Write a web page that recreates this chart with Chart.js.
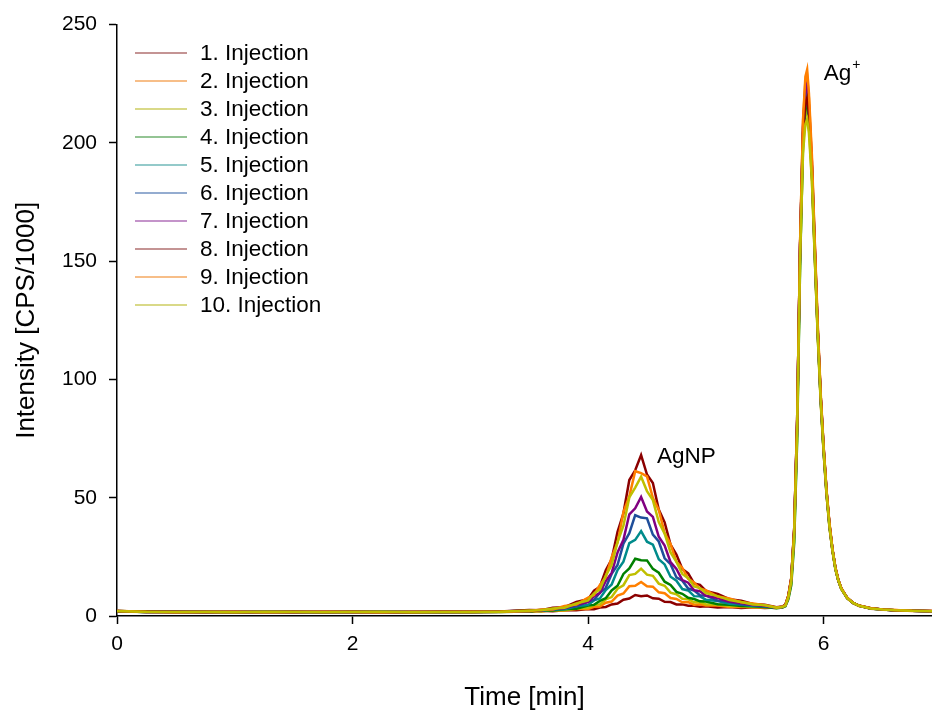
<!doctype html>
<html>
<head>
<meta charset="utf-8">
<title>AgNP / Ag+ injections</title>
<script src="https://cdn.jsdelivr.net/npm/chart.js@4.4.1/dist/chart.umd.min.js"></script>
<style>
  html, body { margin: 0; padding: 0; background: #fff; }
  #chrom { display: block; }
</style>
</head>
<body>
<canvas id="chrom" width="932" height="715"></canvas>
<script>
// time axis [min], shared by all injections
var timeMin = [0, 0.25, 0.5, 0.75, 1, 1.25, 1.5, 1.75, 2, 2.25, 2.5, 2.75, 3, 3.25,
  3.5, 3.6, 3.7, 3.8, 3.9, 4.0, 4.05, 4.1, 4.15, 4.2, 4.25, 4.3, 4.35, 4.4, 4.45, 4.5,
  4.55, 4.6, 4.65, 4.7, 4.75, 4.8, 4.85, 4.9, 4.95, 5.0, 5.1, 5.2, 5.3, 5.4, 5.5,
  5.6, 5.65, 5.675, 5.7, 5.725, 5.75, 5.775, 5.8, 5.825, 5.845, 5.86, 5.875, 5.9, 5.925,
  5.95, 5.975, 6.0, 6.025, 6.05, 6.075, 6.1, 6.125, 6.15, 6.2, 6.25, 6.3, 6.4, 6.5, 6.6, 6.75, 6.92];

// intensity [CPS/1000]
var inj1 = [2.0, 1.7, 1.8, 1.6, 1.7, 1.8, 1.6, 1.7, 1.6, 1.7, 1.8, 1.6, 1.7, 1.8,
  1.8, 2.2, 2.0, 2.4, 2.4, 3.0, 2.9, 3.6, 3.8, 4.9, 5.3, 6.9, 7.4, 8.9, 8.4, 8.7,
  7.5, 7.3, 6.0, 5.9, 4.9, 4.9, 4.3, 4.3, 3.9, 4.1, 3.6, 3.8, 3.4, 3.7, 3.4,
  3.6, 3.7, 4.6, 8.5, 16, 37, 83, 156, 204, 219, 222, 212, 188, 152,
  119, 91, 69, 51, 37.5, 27.5, 20, 15, 11.4, 7.6, 5.4, 4.4, 3.1, 2.8, 2.3, 2.2, 2.0];
var inj2 = [2.1, 1.8, 1.6, 1.8, 1.7, 1.6, 1.8, 1.6, 1.7, 1.8, 1.6, 1.7, 1.8, 1.7,
  2.1, 1.9, 2.4, 2.3, 3.0, 3.0, 3.9, 4.0, 5.6, 6.1, 8.6, 9.5, 12.6, 12.8, 14.4, 12.6,
  12.4, 10.0, 9.6, 7.6, 7.2, 5.8, 5.9, 4.8, 5.0, 4.4, 4.4, 3.8, 3.9, 3.6, 3.7,
  3.4, 3.9, 4.4, 8.2, 15.5, 36, 82, 158, 209, 226, 228, 219, 193, 157,
  122, 93, 71, 52.5, 38.5, 28, 20.5, 15.2, 11.8, 7.4, 5.6, 4.2, 3.3, 2.6, 2.5, 2.1, 2.1];
var inj3 = [1.9, 1.7, 1.9, 1.7, 1.6, 1.7, 1.7, 1.8, 1.6, 1.6, 1.7, 1.8, 1.6, 1.8,
  2.2, 2.0, 2.5, 2.4, 3.3, 3.5, 4.7, 4.9, 7.0, 8.0, 11.5, 13.0, 17.3, 17.8, 20.0, 17.5,
  17.0, 13.7, 12.8, 9.9, 9.2, 7.3, 7.1, 5.8, 5.9, 5.0, 4.9, 4.2, 4.2, 3.8, 3.8,
  3.5, 3.7, 4.3, 7.6, 14, 33, 77, 150, 198, 212, 214, 207, 185, 151,
  118, 90, 69, 51, 37, 27.5, 19.6, 14.7, 11.3, 7.5, 5.4, 4.3, 3.2, 2.7, 2.4, 2.3, 1.9];
var inj4 = [2.0, 1.8, 1.7, 1.6, 1.8, 1.7, 1.6, 1.7, 1.8, 1.7, 1.6, 1.7, 1.8, 1.7,
  1.9, 2.4, 2.3, 2.9, 3.1, 4.4, 4.7, 6.4, 7.5, 10.8, 12.8, 17.8, 20.1, 24.2, 23.6, 23.5,
  19.9, 18.3, 14.5, 13.1, 10.2, 9.4, 7.7, 7.2, 6.2, 6.1, 5.0, 4.8, 4.2, 4.1, 3.8,
  3.3, 3.6, 4.1, 7.0, 13, 31, 74, 148, 200, 215, 217, 210, 188, 153,
  120, 92, 70, 52, 38, 28, 20.2, 15.1, 11.6, 7.7, 5.5, 4.4, 3.2, 2.8, 2.4, 2.2, 2.0];
var inj5 = [2.2, 1.6, 1.7, 1.8, 1.6, 1.8, 1.7, 1.6, 1.7, 1.8, 1.7, 1.6, 1.7, 1.9,
  2.3, 2.1, 2.8, 2.9, 4.1, 4.7, 6.6, 7.4, 11.0, 13.3, 19.4, 23.0, 30.8, 32.2, 35.9, 31.4,
  30.2, 24.0, 21.8, 16.6, 14.9, 11.4, 10.8, 8.4, 8.3, 6.9, 6.3, 5.2, 4.9, 4.2, 4.1,
  3.5, 3.8, 4.5, 8.0, 15, 35, 80, 154, 203, 218, 220, 211, 189, 154,
  120, 92, 70, 52, 38, 28, 20, 15, 11.5, 7.5, 5.5, 4.3, 3.2, 2.7, 2.4, 2.2, 2.0];
var inj6 = [1.9, 1.8, 1.6, 1.7, 1.7, 1.6, 1.8, 1.7, 1.6, 1.7, 1.8, 1.7, 1.6, 1.8,
  2.0, 2.6, 2.6, 3.6, 4.0, 6.1, 6.8, 9.8, 11.9, 17.8, 21.6, 30.6, 35.0, 42.6, 41.6, 41.3,
  34.4, 31.5, 24.4, 21.9, 16.3, 14.9, 11.6, 10.8, 8.8, 8.6, 6.5, 6.1, 4.9, 4.7, 4.1,
  3.6, 3.9, 4.6, 8.3, 15.5, 36, 81, 156, 206, 222, 224, 214, 190, 154,
  120, 92, 70, 52, 38, 28, 20, 15, 11.5, 7.5, 5.6, 4.4, 3.2, 2.7, 2.4, 2.2, 2.0];
var inj7 = [2.1, 1.7, 1.8, 1.6, 1.8, 1.7, 1.6, 1.8, 1.7, 1.6, 1.7, 1.8, 1.7, 1.8,
  2.4, 2.3, 3.1, 3.3, 4.9, 5.9, 8.4, 9.7, 14.8, 18.2, 26.9, 32.2, 43.0, 45.5, 50.3, 44.2,
  41.9, 33.5, 29.8, 22.8, 19.9, 15.2, 14.1, 10.9, 10.5, 8.6, 7.6, 6.0, 5.5, 4.6, 4.4,
  3.5, 3.8, 4.5, 8.1, 15.2, 35.5, 81, 157, 207, 223, 225, 216, 192, 156,
  121, 93, 71, 52.5, 38.5, 28.2, 20.3, 15.2, 11.6, 7.6, 5.5, 4.3, 3.3, 2.7, 2.4, 2.2, 2.0];
var inj8 = [2.0, 1.9, 1.7, 1.8, 1.6, 1.7, 1.8, 1.6, 1.8, 1.7, 1.6, 1.8, 1.7, 1.9,
  2.5, 2.4, 3.5, 3.7, 5.9, 7.1, 10.7, 12.4, 19.3, 24.0, 35.6, 43.4, 57.5, 61.6, 68.0, 59.8,
  56.2, 45.0, 39.6, 30.2, 26.0, 19.9, 18.0, 13.8, 13.2, 10.6, 9.3, 7.1, 6.5, 5.1, 4.8,
  3.7, 4.0, 4.8, 8.6, 16, 37, 83, 157, 204, 217, 219, 212, 190, 155,
  121, 93, 71, 52.5, 38.5, 28, 20.2, 15.1, 11.6, 7.6, 5.6, 4.4, 3.3, 2.8, 2.4, 2.2, 2.1];
var inj9 = [2.2, 1.7, 1.6, 1.7, 1.8, 1.6, 1.7, 1.8, 1.7, 1.6, 1.8, 1.7, 1.8, 1.8,
  2.0, 2.8, 2.8, 4.2, 4.8, 7.8, 8.9, 13.1, 16.4, 24.9, 31.0, 43.9, 50.6, 61.2, 60.4, 59.0,
  50.0, 44.8, 35.0, 30.4, 22.9, 20.3, 15.7, 14.2, 11.5, 10.9, 8.2, 7.4, 5.8, 5.3, 4.5,
  3.6, 3.9, 4.6, 8.4, 15.8, 36.5, 82, 158, 210, 228, 231, 221, 195, 158,
  123, 94, 71.5, 53, 39, 28.5, 20.5, 15.3, 11.8, 7.7, 5.6, 4.4, 3.3, 2.8, 2.5, 2.2, 2.1];
var inj10 = [2.0, 1.8, 1.7, 1.7, 1.6, 1.8, 1.7, 1.6, 1.7, 1.8, 1.6, 1.7, 1.6, 1.8,
  2.3, 2.4, 3.2, 3.5, 5.3, 6.6, 9.5, 11.2, 17.1, 21.5, 31.3, 38.2, 50.1, 54.3, 58.9, 52.8,
  49.0, 39.7, 34.8, 26.9, 22.9, 17.8, 16.0, 12.5, 11.8, 9.7, 8.4, 6.7, 5.9, 4.9, 4.6,
  3.5, 3.8, 4.4, 7.8, 14.5, 34, 78, 151, 196, 208, 210, 204, 184, 151,
  118, 91, 69.5, 51.5, 37.5, 27.6, 19.8, 14.9, 11.4, 7.5, 5.5, 4.3, 3.2, 2.7, 2.4, 2.2, 2.0];

var injections = [inj1, inj2, inj3, inj4, inj5, inj6, inj7, inj8, inj9, inj10];
var injLabels = ['1. Injection', '2. Injection', '3. Injection', '4. Injection', '5. Injection',
  '6. Injection', '7. Injection', '8. Injection', '9. Injection', '10. Injection'];
var lineColors = ['#8b0000', '#ff7f00', '#bfbf00', '#008000', '#008b8b',
  '#1f4e9a', '#800080', '#8b0000', '#ff7f00', '#bfbf00'];
var legendColors = ['#b07070', '#f4a860', '#cccc60', '#70b070', '#70b8b8',
  '#7090c0', '#b070b8', '#b07070', '#f4a860', '#cccc60'];
var xTicks = [0, 2, 4, 6];
var peakLabels = [{ text: 'AgNP', x: 4.585, y: 67.5 }, { text: 'Ag', sup: '+', x: 6.0, y: 229 }];

var fontFam = "'Liberation Sans', Arial, Helvetica, sans-serif";
Chart.defaults.font.family = fontFam;
Chart.defaults.color = '#000';

// later injections are painted over earlier ones
var datasets = injections.map(function (vals, k) {
  return {
    label: injLabels[k],
    data: timeMin.map(function (t, i) { return { x: t, y: vals[i] }; }),
    borderColor: lineColors[k],
    borderWidth: 2.5,
    borderJoinStyle: 'miter',
    pointRadius: 0,
    tension: 0,
    fill: false,
    order: injections.length - k
  };
});

// legend + peak labels drawn inside the plot area
var overlay = {
  id: 'overlay',
  afterDraw: function (chart) {
    var ctx = chart.ctx;
    ctx.save();
    ctx.font = '22.5px ' + fontFam;
    ctx.textBaseline = 'middle';
    ctx.textAlign = 'left';
    for (var i = 0; i < injLabels.length; i++) {
      var y = 53 + i * 28;
      ctx.strokeStyle = legendColors[i];
      ctx.lineWidth = 1.5;
      ctx.beginPath();
      ctx.moveTo(135, y);
      ctx.lineTo(187, y);
      ctx.stroke();
      ctx.fillStyle = '#000';
      ctx.fillText(injLabels[i], 200, y + 1);
    }
    var xs = chart.scales.x, ys = chart.scales.y;
    peakLabels.forEach(function (p) {
      var px = xs.getPixelForValue(p.x), py = ys.getPixelForValue(p.y);
      ctx.font = '22.5px ' + fontFam;
      ctx.fillText(p.text, px, py);
      if (p.sup) {
        var w = ctx.measureText(p.text).width;
        ctx.font = '14px ' + fontFam;
        ctx.fillText(p.sup, px + w + 1, py - 9);
      }
    });
    ctx.restore();
  }
};

new Chart(document.getElementById('chrom'), {
  type: 'line',
  data: { datasets: datasets },
  options: {
    responsive: false,
    animation: false,
    devicePixelRatio: 1,
    layout: { padding: { top: 22, right: 0, left: 0, bottom: 0 } },
    plugins: { legend: { display: false }, tooltip: { enabled: false } },
    scales: {
      x: {
        type: 'linear',
        min: 0,
        max: 6.92,
        afterBuildTicks: function (s) { s.ticks = xTicks.map(function (v) { return { value: v }; }); },
        afterFit: function (s) { s.height = 99; },
        grid: { drawOnChartArea: false, drawTicks: true, tickLength: 8, tickColor: '#000', tickWidth: 1.5 },
        border: { display: true, color: '#000', width: 1.5 },
        ticks: { font: { size: 21 }, padding: 8, maxRotation: 0 },
        title: { display: true, text: 'Time [min]', font: { size: 26 }, padding: { top: 0, bottom: 2 } }
      },
      y: {
        min: 0,
        max: 250,
        afterFit: function (s) { s.width = 117; },
        grid: { drawOnChartArea: false, drawTicks: true, tickLength: 8, tickColor: '#000', tickWidth: 1.5 },
        border: { display: true, color: '#000', width: 1.5 },
        ticks: { stepSize: 50, font: { size: 21 }, padding: 12 },
        title: { display: true, text: 'Intensity [CPS/1000]', font: { size: 26 }, padding: { top: 11, bottom: 0 } }
      }
    }
  },
  plugins: [overlay]
});
</script>
</body>
</html>
